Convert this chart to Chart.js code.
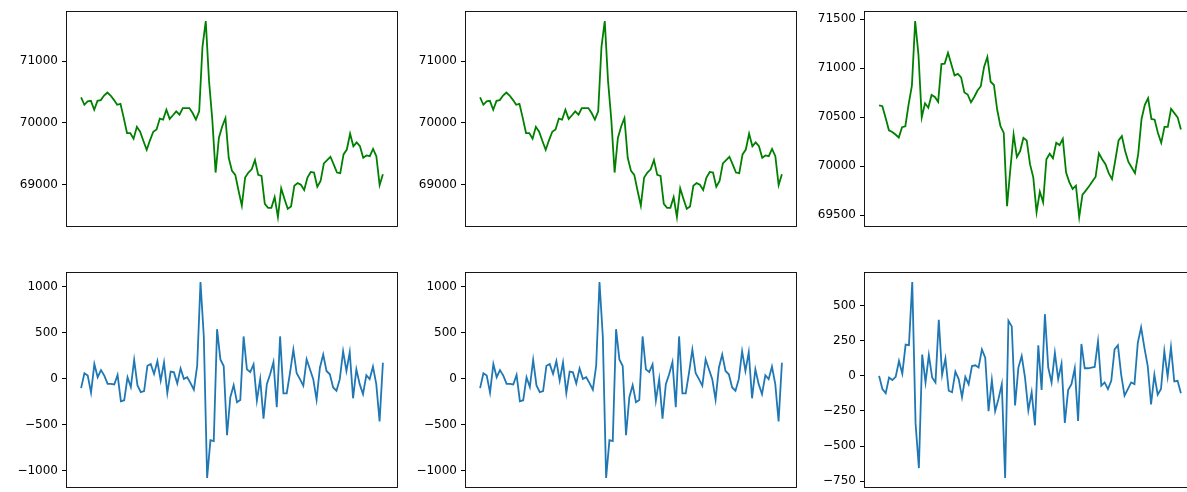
<!DOCTYPE html>
<html>
<head>
<meta charset="utf-8">
<script src="https://cdn.jsdelivr.net/npm/chart.js@4.4.1/dist/chart.umd.min.js"></script>
<style>
  html, body { margin: 0; padding: 0; background: #fff; width: 1187px; height: 492px; overflow: hidden; }
  .panel { position: absolute; }
</style>
</head>
<body>
<script>
// ---- data ----
const priceA = [70411,70293,70347,70357,70213,70357,70368,70443,70491,70443,
70373,70293,70309,70080,69835,69835,69744,69936,69856,69707,
69563,69717,69856,69893,70069,70053,70213,70064,70123,70187,
70133,70240,70240,70240,70160,70053,70187,71230,71650,70680,
70048,69195,69755,69941,70075,69435,69221,69157,68901,68661,
69115,69195,69248,69397,69157,69141,68688,68624,68624,68795,
68475,68939,68768,68608,68645,68981,69024,68997,68912,69115,
69205,69195,68965,69061,69344,69398,69451,69328,69195,69184,
69488,69568,69824,69621,69685,69621,69435,69472,69461,69579,
69461,68992,69168];

const changeA = [-100,61,36,-150,161,18,96,36,-54,-54,
-61,43,-243,-232,18,-89,207,-71,-143,-132,
143,161,54,193,-18,179,-154,79,71,-50,
114,0,18,-46,-118,143,1054,462,-1078,-666,
-677,541,212,140,-613,-200,-68,-254,-229,462,
104,75,158,-236,-3,-433,-57,50,183,-308,
462,-157,-157,68,319,61,-3,-75,212,104,
-3,-225,122,265,86,50,-93,-129,-3,301,
86,290,-211,104,-57,-165,40,-3,133,-57,
-462,176];

const priceB = [70618,70611,70490,70365,70348,70322,70291,70396,70406,70629,
70820,71480,71135,70497,70640,70595,70725,70705,70655,71040,
71045,71155,71040,70925,70940,70905,70750,70730,70650,70705,
70770,70815,71012,71113,70860,70827,70574,70406,70338,69591,
69965,70322,70093,70153,70288,70261,70019,69884,69530,69739,
69631,70069,70126,70079,70237,70214,70278,69934,69833,69766,
69800,69480,69709,69749,69793,69843,69891,70130,70069,70019,
69928,69867,70059,70261,70305,70153,70042,69985,69928,70126,
70480,70625,70692,70480,70473,70338,70237,70399,70399,70584,
70540,70497,70372];

const changeB = [0,-94,-124,-12,-30,-7,106,16,223,218,
668,-340,-657,152,-47,148,-12,-47,399,7,
124,-106,-117,30,-23,-152,-7,-59,70,75,
59,188,129,-251,-30,-251,-164,-59,-727,392,
352,-211,59,141,-12,-246,-117,-352,218,-101,
439,59,-47,164,-23,87,-335,-101,-59,54,
-321,227,54,54,59,63,246,-70,-47,-94,
-35,188,218,7,-141,-94,-47,-59,235,345,
199,70,-204,7,-134,-94,176,-5,204,-40,
-35,-124];

const ticksPriceA  = [69000, 70000, 71000];
const ticksPriceB  = [69500, 70000, 70500, 71000, 71500];
const ticksChangeA = [-1000, -500, 0, 500, 1000];
const ticksChangeB = [-750, -500, -250, 0, 250, 500];

const GREEN = '#008000';
const BLUE = '#1f77b4';

// ---- layout (axes boxes in page pixels) ----
const colLeft = [66, 465, 864];
const rowTop = [10, 271];
const AX_W = 332, AX_H = 218;
const LABEL_W = 60, PAD_T = 10, PAD_B = 10, PAD_R = 4;

const panels = [
  {col:0,row:0,data:priceA, ticks:ticksPriceA, color:GREEN},
  {col:1,row:0,data:priceA, ticks:ticksPriceA, color:GREEN},
  {col:2,row:0,data:priceB, ticks:ticksPriceB, color:GREEN},
  {col:0,row:1,data:changeA,ticks:ticksChangeA,color:BLUE},
  {col:1,row:1,data:changeA,ticks:ticksChangeA,color:BLUE},
  {col:2,row:1,data:changeB,ticks:ticksChangeB,color:BLUE},
];

const boxPlugin = {
  id: 'box',
  afterDraw(chart) {
    const {ctx, chartArea:a} = chart;
    ctx.save();
    ctx.strokeStyle = '#000';
    ctx.lineWidth = 0.9;
    ctx.strokeRect(Math.round(a.left)+0.5, Math.round(a.top)+0.5,
                   Math.round(a.right-a.left)-1, Math.round(a.bottom-a.top)-1);
    ctx.restore();
  }
};

function fmt(v) { return v < 0 ? '\u2212' + Math.abs(v) : String(v); }

panels.forEach(p => {
  const div = document.createElement('div');
  div.className = 'panel';
  const W = LABEL_W + AX_W + PAD_R, H = PAD_T + AX_H + PAD_B;
  div.style.left = (colLeft[p.col] - LABEL_W) + 'px';
  div.style.top = (rowTop[p.row] - PAD_T) + 'px';
  div.style.width = W + 'px';
  div.style.height = H + 'px';
  const cv = document.createElement('canvas');
  cv.width = W; cv.height = H;
  cv.style.width = W + 'px'; cv.style.height = H + 'px';
  div.appendChild(cv);
  document.body.appendChild(div);

  const n = p.data.length;
  const pts = p.data.map((v, i) => ({x: i, y: v}));
  const lo = Math.min(...p.data), hi = Math.max(...p.data);
  const ypad = 0.05 * (hi - lo);
  const xpad = 0.05 * (n - 1);

  new Chart(cv.getContext('2d'), {
    type: 'line',
    data: { datasets: [{ data: pts, borderColor: p.color, borderWidth: 1.8,
      pointRadius: 0, tension: 0, fill: false }] },
    options: {
      responsive: false, animation: false, devicePixelRatio: 1,
      layout: { padding: { top: PAD_T, bottom: PAD_B, right: PAD_R, left: 0 } },
      plugins: { legend: { display: false }, tooltip: { enabled: false } },
      scales: {
        x: { type: 'linear', display: false, min: -xpad, max: (n - 1) + xpad },
        y: {
          type: 'linear', min: lo - ypad, max: hi + ypad,
          afterFit(s) { s.width = LABEL_W; },
          afterBuildTicks(s) { s.ticks = p.ticks.map(v => ({value: v})); },
          border: { display: false },
          grid: { display: true, drawOnChartArea: false, drawTicks: true, tickLength: 4, color: '#000', lineWidth: 1 },
          ticks: { padding: 4, color: '#000', font: { family: 'DejaVu Sans', size: 12 },
                   callback: (v) => fmt(v) }
        }
      }
    },
    plugins: [boxPlugin]
  });
});
</script>
</body>
</html>
